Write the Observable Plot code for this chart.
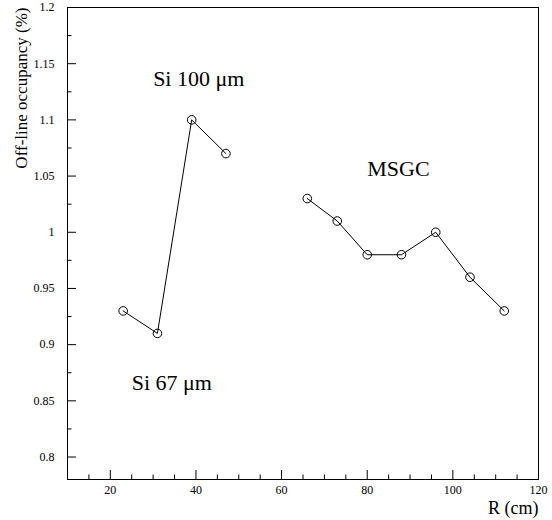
<!DOCTYPE html>
<html>
<head>
<meta charset="utf-8">
<script src="https://cdn.jsdelivr.net/npm/d3@7"></script>
<script src="https://cdn.jsdelivr.net/npm/@observablehq/plot@0.6"></script>
<style>
  html, body { margin: 0; padding: 0; background: #fff; }
  svg, svg text { font-family: "Liberation Serif", "DejaVu Serif", serif !important; }
</style>
</head>
<body>
<div id="chart"></div>
<script>
// Data
const siR = [23, 31, 39, 47];
const siOcc = [0.93, 0.91, 1.10, 1.07];
const msgcR = [66, 73, 80, 88, 96, 104, 112];
const msgcOcc = [1.03, 1.01, 0.98, 0.98, 1.00, 0.96, 0.93];

// Annotations (data coordinates)
const labelTexts = ["Si 100 μm", "Si 67 μm", "MSGC"];
const labelR = [30, 25, 80];
const labelOcc = [1.13, 0.86, 1.05];

// Ticks
const xMajor = [20, 40, 60, 80, 100, 120];
const xMinor = [15, 25, 30, 35, 45, 50, 55, 65, 70, 75, 85, 90, 95, 105, 110, 115];
const yMajor = [0.8, 0.85, 0.9, 0.95, 1, 1.05, 1.1, 1.15, 1.2];
const yMajorLabels = ["0.8", "0.85", "0.9", "0.95", "1", "1.05", "1.1", "1.15", "1.2"];
const yMinor = [0.825, 0.875, 0.925, 0.975, 1.025, 1.075, 1.125, 1.175];

const xTitle = "R (cm)";
const yTitle = "Off-line occupancy (%)";

const si = siR.map((r, i) => ({r, occ: siOcc[i]}));
const msgc = msgcR.map((r, i) => ({r, occ: msgcOcc[i]}));
const labels = labelTexts.map((t, i) => ({t, r: labelR[i], occ: labelOcc[i]}));

const FONT = "Liberation Serif";

const chart = Plot.plot({
  width: 552,
  height: 520,
  marginLeft: 67,
  marginRight: 14,
  marginTop: 7,
  marginBottom: 41,
  style: "font-family: 'Liberation Serif', serif; font-size: 12px; color: black; background: white;",
  x: {domain: [10, 120], axis: null},
  y: {domain: [0.78, 1.2], axis: null},
  marks: [
    Plot.frame({stroke: "black", strokeWidth: 1}),
    Plot.axisX(xMajor, {tickSize: -9, tickFormat: () => "", label: null}),
    Plot.axisX(xMinor, {tickSize: -4.5, tickFormat: () => "", label: null}),
    Plot.axisX(xMajor, {tickSize: 0, tickPadding: 6, tickFormat: d => String(d), label: null, fontSize: 12, fontFamily: FONT}),
    Plot.axisY(yMajor, {tickSize: -9, tickFormat: () => "", label: null}),
    Plot.axisY(yMinor, {tickSize: -4.5, tickFormat: () => "", label: null}),
    Plot.axisY(yMajor, {tickSize: 0, tickPadding: 13, tickFormat: (d, i) => yMajorLabels[i], label: null, fontSize: 12, fontFamily: FONT}),
    Plot.line(si, {x: "r", y: "occ", stroke: "black", strokeWidth: 1}),
    Plot.line(msgc, {x: "r", y: "occ", stroke: "black", strokeWidth: 1}),
    Plot.dot(si, {x: "r", y: "occ", r: 4.3, stroke: "black", strokeWidth: 1, fill: "none"}),
    Plot.dot(msgc, {x: "r", y: "occ", r: 4.3, stroke: "black", strokeWidth: 1, fill: "none"}),
    Plot.text(labels, {x: "r", y: "occ", text: "t", textAnchor: "start", lineAnchor: "bottom", fontSize: 22, fontFamily: FONT, fill: "black"}),
    Plot.text([xTitle], {frameAnchor: "bottom-right", textAnchor: "end", lineAnchor: "bottom", dy: 34, fontSize: 18, fontFamily: FONT, fill: "black"}),
    Plot.text([yTitle], {frameAnchor: "top-left", rotate: -90, textAnchor: "end", lineAnchor: "bottom", dx: -41, fontSize: 17, fontFamily: FONT, fill: "black"})
  ]
});
document.getElementById("chart").append(chart);
</script>
</body>
</html>
